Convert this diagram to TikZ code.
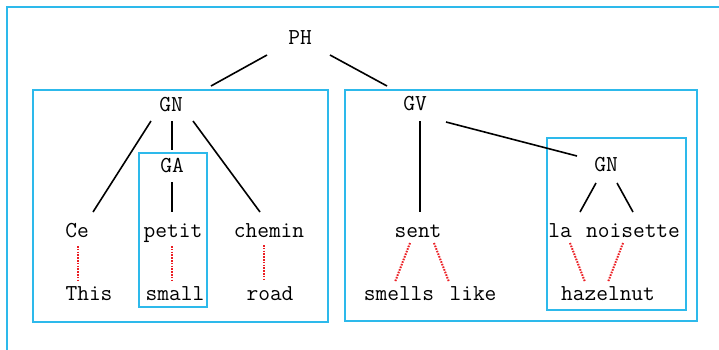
\documentclass[tikz,border=0pt]{standalone}
\usetikzlibrary{positioning}
\definecolor{framecol}{RGB}{45,185,235}
\definecolor{linkred}{RGB}{235,30,35}

\begin{document}
\begin{tikzpicture}[x=1pt, y=-1pt,
	word/.style={font=\ttfamily\fontsize{22.8}{26}\selectfont, inner sep=0pt, text height=11pt, text depth=3pt},
	branch/.style={line width=1.6pt, black},
	gloss/.style={line width=2pt, linkred, dash pattern=on 1.6pt off 1.2pt},
	frame/.style={draw=framecol, line width=1.1pt}]
		\useasboundingbox (0,0) rectangle (719,349);
		\clip (0,0) rectangle (719,349);

		% frames
		\draw[frame] (7,7) rectangle (740,370);
		\draw[frame] (33,90) rectangle (328,322);
		\draw[frame] (139,153) rectangle (207,307);
		\draw[frame] (345,90) rectangle (697,321);
		\draw[frame] (547,138) rectangle (686,310);

		% tree
		\node[word] (ph) at (300,40) {PH};
		\node[word] (gn1) at (171,107) {GN};
		\node[word] (ga) at (172,168) {GA};
		\node[word] (gv) at (415,106) {GV};
		\node[word] (gn2) at (606,167) {GN};

		% french words
		\node[word] (ce) at (77,233) {Ce};
		\node[word] (petit) at (173,233) {petit};
		\node[word] (chemin) at (269,233) {chemin};
		\node[word] (sent) at (418,233) {sent};
		\node[word] (la) at (560,233) {la};
		\node[word] (noisette) at (633,233) {noisette};

		% english words
		\node[word] (this) at (89,296) {This};
		\node[word] (small) at (175,296) {small};
		\node[word] (road) at (270,296) {road};
		\node[word] (smells) at (399,296) {smells};
		\node[word] (like) at (473,296) {like};
		\node[word] (hazel) at (608,296) {hazelnut};

		\draw[branch] ([shift={(-33,15)}]ph.center) -- ([shift={(40,-21)}]gn1.center);
		\draw[branch] ([shift={(30,15)}]ph.center) -- ([shift={(-28,-20)}]gv.center);
		\draw[branch] ([shift={(-20,14)}]gn1.center) -- ([shift={(16,-21)}]ce.center);
		\draw[branch] ([shift={(1,14)}]gn1.center) -- ([shift={(0,-18)}]ga.center);
		\draw[branch] ([shift={(22,14)}]gn1.center) -- ([shift={(-9,-21)}]chemin.center);
		\draw[branch] ([shift={(0,14)}]ga.center) -- ([shift={(-1,-21)}]petit.center);
		\draw[branch] ([shift={(5,15)}]gv.center) -- ([shift={(2,-21)}]sent.center);
		\draw[branch] ([shift={(31,16)}]gv.center) -- ([shift={(-29,-11)}]gn2.center);
		\draw[branch] ([shift={(-10,16)}]gn2.center) -- ([shift={(20,-21)}]la.center);
		\draw[branch] ([shift={(11,16)}]gn2.center) -- ([shift={(0,-21)}]noisette.center);

		\draw[gloss] ([shift={(1,13)}]ce.center) -- ([shift={(-11,-15)}]this.center);
		\draw[gloss] ([shift={(-1,13)}]petit.center) -- ([shift={(-3,-15)}]small.center);
		\draw[gloss] ([shift={(-5,12)}]chemin.center) -- ([shift={(-6,-15)}]road.center);
		\draw[gloss] ([shift={(-8,10)}]sent.center) -- ([shift={(-4,-14)}]smells.center);
		\draw[gloss] ([shift={(16,10)}]sent.center) -- ([shift={(-24,-14)}]like.center);
		\draw[gloss] ([shift={(10,10)}]la.center) -- ([shift={(-23,-14)}]hazel.center);
		\draw[gloss] ([shift={(-10,10)}]noisette.center) -- ([shift={(0,-14)}]hazel.center);
	\end{tikzpicture}
\end{document}
